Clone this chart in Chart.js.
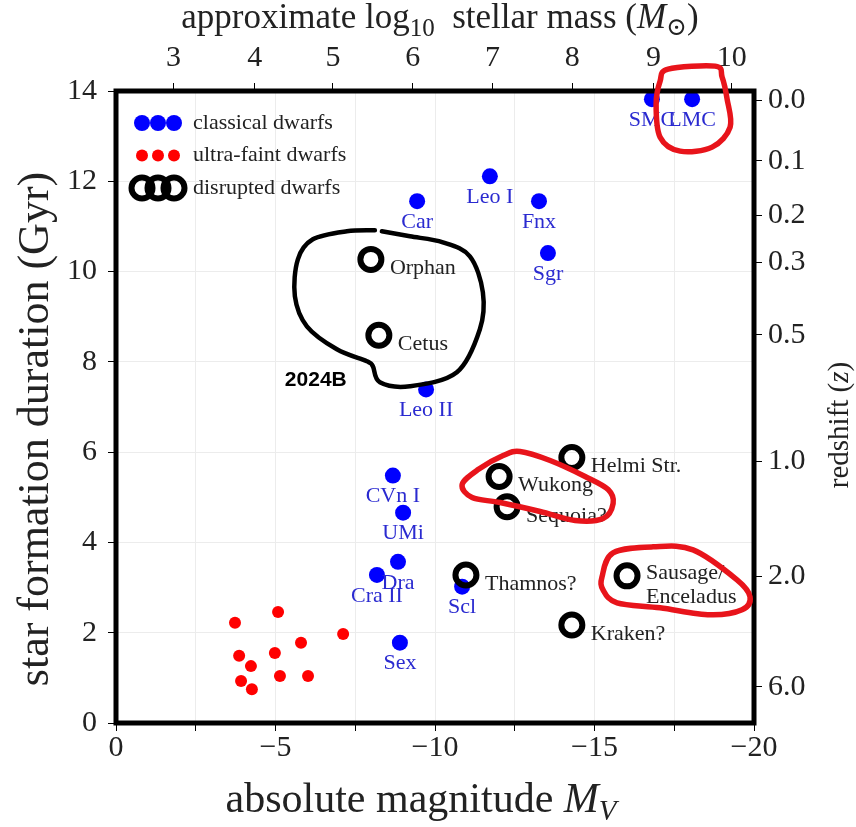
<!DOCTYPE html>
<html>
<head>
<meta charset="utf-8">
<script src="https://cdn.jsdelivr.net/npm/chart.js@4.4.1/dist/chart.umd.min.js"></script>
<style>
  html, body { margin: 0; padding: 0; background: #fff; }
</style>
</head>
<body>
<canvas id="sfChart" width="856" height="827"></canvas>
<script>
// DATA

const classicalNames = ["SMC", "LMC", "Car", "Leo I", "Fnx", "Sgr", "Leo II", "CVn I", "UMi", "Dra", "Cra II", "Scl", "Sex"];
const classicalMv = [-16.8, -18.06, -9.44, -11.72, -13.26, -13.54, -9.72, -8.68, -9.0, -8.84, -8.18, -10.85, -8.9];
const classicalDur = [13.82, 13.82, 11.56, 12.11, 11.56, 10.41, 7.39, 5.48, 4.66, 3.57, 3.28, 3.02, 1.78];

const ultraFaintMv = [-3.73, -5.08, -7.12, -5.8, -3.86, -4.98, -4.23, -3.92, -5.14, -6.02, -4.26];
const ultraFaintDur = [2.22, 2.46, 1.97, 1.78, 1.49, 1.55, 1.26, 0.93, 1.04, 1.04, 0.75];

const disruptedNames = ["Orphan", "Cetus", "Helmi Str.", "Wukong", "Sequoia?", "Thamnos?", "Sausage/\nEnceladus", "Kraken?"];
const disruptedMv = [-7.99, -8.24, -14.29, -12.01, -12.26, -10.97, -16.02, -14.29];
const disruptedDur = [10.27, 8.59, 5.88, 5.46, 4.79, 3.28, 3.26, 2.17];

// top axis: log10 stellar mass, placed at the matching M_V
const massTicks = [3, 4, 5, 6, 7, 8, 9, 10];
const massTickMv = [-1.8, -4.35, -6.8, -9.3, -11.8, -14.3, -16.85, -19.3];

// right axis: redshift, placed at the matching cosmic age (Gyr)
const redshiftTicks = ["0.0", "0.1", "0.2", "0.3", "0.5", "1.0", "2.0", "6.0"];
const redshiftAge = [13.8, 12.45, 11.25, 10.2, 8.6, 5.8, 3.25, 0.8];

const SERIF = '"Liberation Serif", "DejaVu Serif", serif';
const TEXT = "#222";
const BLUE = "#0000ff";
const RED = "#ff0000";

function pts(xs, ys) {
  return xs.map((x, i) => ({ x: x, y: ys[i] }));
}

function fmtMag(v) {
  if (v === 0) return "0";
  return "\u2212" + Math.abs(v);
}

// HELPERS

function richText(ctx, parts, x, y, rot, size) {
  ctx.save();
  ctx.translate(x, y);
  ctx.rotate(rot);
  ctx.textAlign = "left";
  ctx.textBaseline = "alphabetic";
  ctx.fillStyle = TEXT;
  const fonts = parts.map(p => (p.i ? "italic " : "") + Math.round(size * (p.s || 1)) + "px " + SERIF);
  let total = 0;
  parts.forEach((p, k) => { ctx.font = fonts[k]; total += ctx.measureText(p.t).width; });
  let cx = -total / 2;
  parts.forEach((p, k) => {
    ctx.font = fonts[k];
    ctx.fillText(p.t, cx, (p.dy || 0) * size);
    cx += ctx.measureText(p.t).width;
  });
  ctx.restore();
}

function smoothPath(ctx, p, closed) {
  const n = p.length;
  const get = i => closed ? p[(i + n) % n] : p[Math.max(0, Math.min(n - 1, i))];
  ctx.beginPath();
  ctx.moveTo(p[0][0], p[0][1]);
  const segs = closed ? n : n - 1;
  for (let i = 0; i < segs; i++) {
    const p0 = get(i - 1), p1 = get(i), p2 = get(i + 1), p3 = get(i + 2);
    ctx.bezierCurveTo(
      p1[0] + (p2[0] - p0[0]) / 6, p1[1] + (p2[1] - p0[1]) / 6,
      p2[0] - (p3[0] - p1[0]) / 6, p2[1] - (p3[1] - p1[1]) / 6,
      p2[0], p2[1]);
  }
  if (closed) ctx.closePath();
  ctx.stroke();
}

// hand-drawn highlights, offsets in px around an anchor point [dataset, index]
const highlights = [
  { anchor: [0, 1], color: "#e8141b", width: 5.5, closed: true,
    path: [[-24, -30], [23, -33], [30, -22], [35, 0], [38, 28], [20, 48], [-12, 52], [-32, 38], [-36, 5], [-32, -18]] },
  { anchor: [2, 3], color: "#e8141b", width: 5.5, closed: true,
    path: [[-37, 8], [-21, -7], [4, -21], [21, -25], [51, -16], [86, 0], [109, 13], [114, 27], [104, 42], [76, 44], [41, 35], [1, 26], [-27, 21]] },
  { anchor: [2, 6], color: "#e8141b", width: 5.5, closed: true,
    path: [[-25, 1], [-14, -23], [26, -29], [66, -26], [110, 4], [123, 21], [115, 34], [83, 39], [33, 32], [-10, 27], [-24, 14]] }
];

// black outline around Orphan + Cetus (anchored on their midpoint)
const blobPath = [[7, -66], [35, -61], [68, -55], [95, -41], [108, -5], [105, 32], [82, 75], [35, 89], [5, 85], [-2, 69],
  [-8, 64], [-38, 52], [-68, 29], [-80, -1], [-77, -38], [-62, -58], [-28, -66], [0, -67]];

// PLUGINS

const pointLabels = {
  id: "pointLabels",
  afterDatasetsDraw(chart) {
    const ctx = chart.ctx;
    ctx.save();
    ctx.font = "22px " + SERIF;
    ctx.textBaseline = "middle";
    chart.data.datasets.forEach((ds, di) => {
      if (!ds.names) return;
      const meta = chart.getDatasetMeta(di);
      meta.data.forEach((el, i) => {
        const lines = ds.names[i].split("\n");
        if (ds.labelSide === "below") {
          ctx.textAlign = "center";
          ctx.fillStyle = "#2a2ad0";
          ctx.fillText(lines[0], el.x, el.y + 21);
        } else {
          ctx.textAlign = "left";
          ctx.fillStyle = TEXT;
          const lh = 24;
          const y0 = el.y + 9 - (lines.length - 1) * lh / 2;
          lines.forEach((ln, k) => ctx.fillText(ln, el.x + 19, y0 + k * lh));
        }
      });
    });
    ctx.restore();
  }
};

const frameAndNotes = {
  id: "frameAndNotes",
  afterDraw(chart) {
    const ctx = chart.ctx;
    const a = chart.chartArea;

    // thick frame
    ctx.save();
    ctx.strokeStyle = "#000";
    ctx.lineWidth = 5;
    ctx.strokeRect(a.left, a.top, a.right - a.left, a.bottom - a.top);
    ctx.restore();

    // legend
    const legend = [
      { text: "classical dwarfs", ds: 0 },
      { text: "ultra-faint dwarfs", ds: 1 },
      { text: "disrupted dwarfs", ds: 2 }
    ];
    ctx.save();
    legend.forEach((item, k) => {
      const ds = chart.data.datasets[item.ds];
      const y = a.top + 32 + k * 32.5;
      [26, 42, 58].forEach(dx => {
        ctx.beginPath();
        ctx.arc(a.left + dx, y, ds.pointRadius, 0, Math.PI * 2);
        if (ds.borderWidth > 0) {
          ctx.lineWidth = ds.borderWidth;
          ctx.strokeStyle = ds.borderColor;
          ctx.stroke();
        } else {
          ctx.fillStyle = ds.backgroundColor;
          ctx.fill();
        }
      });
      ctx.font = "22px " + SERIF;
      ctx.fillStyle = TEXT;
      ctx.textAlign = "left";
      ctx.textBaseline = "middle";
      ctx.fillText(item.text, a.left + 77, y);
    });
    ctx.restore();

    // axis titles
    const midX = (a.left + a.right) / 2;
    const midY = (a.top + a.bottom) / 2;
    richText(ctx, [{ t: "absolute magnitude " }, { t: "M", i: true }, { t: "V", i: true, s: 0.7, dy: 0.2 }],
      midX - 14, 812, 0, 42);
    richText(ctx, [{ t: "star formation duration (Gyr)" }], 48, midY + 22, -Math.PI / 2, 44);
    richText(ctx, [{ t: "approximate log" }, { t: "10", s: 0.7, dy: 0.22 }, { t: "  stellar mass (" },
      { t: "M", i: true }, { t: "\u2299", s: 0.7, dy: 0.2 }, { t: ")" }], midX + 5, 28, 0, 35);
    richText(ctx, [{ t: "redshift (" }, { t: "z", i: true }, { t: ")" }], 848, midY + 18, -Math.PI / 2, 29);

    // highlights
    ctx.save();
    ctx.lineCap = "round";
    ctx.lineJoin = "round";
    highlights.forEach(h => {
      const el = chart.getDatasetMeta(h.anchor[0]).data[h.anchor[1]];
      ctx.strokeStyle = h.color;
      ctx.lineWidth = h.width;
      smoothPath(ctx, h.path.map(p => [el.x + p[0], el.y + p[1]]), h.closed);
    });
    const o = chart.getDatasetMeta(2).data[0];
    const c = chart.getDatasetMeta(2).data[1];
    const bx = (o.x + c.x) / 2, by = (o.y + c.y) / 2;
    ctx.strokeStyle = "#000";
    ctx.lineWidth = 4.5;
    smoothPath(ctx, blobPath.map(p => [bx + p[0], by + p[1]]), false);
    ctx.fillStyle = "#000";
    ctx.font = 'bold 21px "Liberation Sans", "DejaVu Sans", sans-serif';
    ctx.textAlign = "left";
    ctx.textBaseline = "middle";
    ctx.fillText("2024B", bx - 90, by + 83);
    ctx.restore();
  }
};

// CHART

const tickFont = { family: SERIF, size: 30, lineHeight: 1 };

new Chart(document.getElementById("sfChart"), {
  type: "scatter",
  data: {
    datasets: [
      {
        label: "classical dwarfs",
        data: pts(classicalMv, classicalDur),
        names: classicalNames,
        labelSide: "below",
        backgroundColor: BLUE,
        borderColor: BLUE,
        borderWidth: 0,
        pointRadius: 8,
        order: 1,
      },
      {
        label: "ultra-faint dwarfs",
        data: pts(ultraFaintMv, ultraFaintDur),
        backgroundColor: RED,
        borderColor: RED,
        borderWidth: 0,
        pointRadius: 6,
        order: 2,
      },
      {
        label: "disrupted dwarfs",
        data: pts(disruptedMv, disruptedDur),
        names: disruptedNames,
        labelSide: "right",
        backgroundColor: "rgba(0,0,0,0)",
        borderColor: "#000",
        borderWidth: 6,
        pointRadius: 10.5,
        order: 0,
      },
    ],
  },
  options: {
    responsive: false,
    animation: false,
    events: [],
    layout: { padding: 0 },
    plugins: {
      legend: { display: false },
      tooltip: { enabled: false },
    },
    scales: {
      x: {
        type: "linear",
        position: "bottom",
        min: -20,
        max: 0,
        reverse: true,
        ticks: {
          stepSize: 2.5,
          autoSkip: false,
          maxRotation: 0,
          padding: 2,
          font: tickFont,
          color: TEXT,
          callback: v => (v % 5 === 0 ? fmtMag(v) : ""),
        },
        grid: { color: "#ececec", tickColor: "#000", tickLength: 8 },
        border: { display: false },
        afterFit: s => { s.height = 104; },
      },
      x2: {
        type: "linear",
        position: "top",
        min: -20,
        max: 0,
        reverse: true,
        afterBuildTicks: s => { s.ticks = massTickMv.map(v => ({ value: v })); },
        ticks: {
          autoSkip: false,
          maxRotation: 0,
          padding: 10,
          font: tickFont,
          color: TEXT,
          callback: (v, i) => String(massTicks[i]),
        },
        grid: { drawOnChartArea: false, tickColor: "#000", tickLength: 8 },
        border: { display: false },
        afterFit: s => { s.height = 91; },
      },
      y: {
        type: "linear",
        position: "left",
        min: 0,
        max: 14,
        ticks: { stepSize: 2, autoSkip: false, padding: 11, font: tickFont, color: TEXT },
        grid: { color: "#ececec", tickColor: "#000", tickLength: 8 },
        border: { display: false },
        afterFit: s => { s.width = 116; },
      },
      y2: {
        type: "linear",
        position: "right",
        min: 0,
        max: 14,
        afterBuildTicks: s => { s.ticks = redshiftAge.map(v => ({ value: v })); },
        ticks: {
          autoSkip: false,
          padding: 6,
          font: tickFont,
          color: TEXT,
          callback: (v, i) => redshiftTicks[i],
        },
        grid: { drawOnChartArea: false, tickColor: "#000", tickLength: 8 },
        border: { display: false },
        afterFit: s => { s.width = 102; },
      },
    },
  },
  plugins: [pointLabels, frameAndNotes],
});
</script>
</body>
</html>
